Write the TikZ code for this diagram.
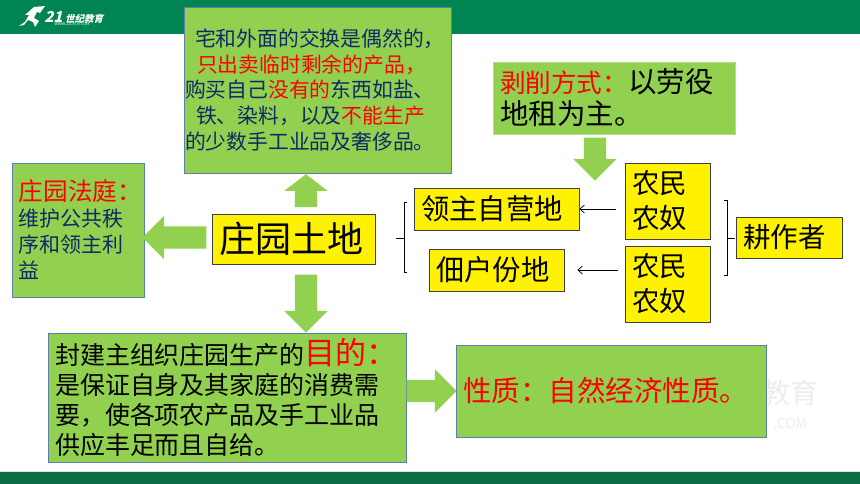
\documentclass[tikz,border=0pt]{standalone}
\usepackage{fontspec}
\usepackage{xcolor}
\setmainfont{Noto Sans CJK SC}
\usetikzlibrary{shapes.arrows,arrows.meta}
\definecolor{boxgreen}{HTML}{92D050}
\definecolor{bandgreen}{HTML}{008451}
\definecolor{footgreen}{HTML}{0A6B45}
\definecolor{edgeblue}{HTML}{5B7FA8}
\definecolor{inknavy}{HTML}{0F2A66}
\tikzset{
  greenbox/.style={fill=boxgreen, draw=edgeblue, line width=0.8pt, inner xsep=7pt, inner ysep=0pt, align=left},
  yellowbox/.style={fill=yellow, draw=black!75, line width=0.8pt, inner xsep=7pt, inner ysep=0pt, align=left},
  bigarrow/.style={single arrow, fill=boxgreen, inner xsep=0pt, inner ysep=11pt, single arrow head extend=10.5pt, single arrow head indent=0pt},
  bracketline/.style={draw=black, line width=1pt},
  thinarrow/.style={-{Straight Barb[length=4.5pt,width=8pt]}, line width=0.7pt}
}
\newcommand{\redtxt}[1]{\textcolor{red}{#1}}
\begin{document}
\begin{tikzpicture}[x=1pt,y=-1pt]
\useasboundingbox (0,0) rectangle (860,484);
% bands
\fill[bandgreen] (0,0) rectangle (860,34);
\fill[footgreen] (0,472) rectangle (860,484);
\fill[black!12] (0,471) rectangle (860,472);
% logo
\fill[white] (34,7) -- (45,6) -- (40,13) -- (37,12) -- (34,18) -- (39,21) -- (35,27) -- (33,22) -- (28,20) -- (24,25) -- (19,26) -- (25,22) -- (29,15) -- (25,15) -- cycle;
\node[white, xslant=0.25, transform shape, inner sep=0pt, font=\bfseries] (logoname) at (75,17) {\fontsize{15}{15}\selectfont 21\,\fontsize{9.5}{15}\selectfont 世纪教育};
\node[white, font=\fontsize{4}{4}\selectfont, inner sep=0pt] (logourl) at (72,24.5) {WWW.21CNJY.COM};
% watermark
\node[black!7, font=\fontsize{28}{28}\selectfont, inner sep=0pt] (markname) at (790,393) {教育};
\node[black!7, font=\fontsize{14}{14}\selectfont, inner sep=0pt] (markurl) at (790,423) {.COM};
% boxes
\node[greenbox, inner xsep=1pt, minimum width=267pt, minimum height=166pt, text width=265pt, text=inknavy, font=\fontsize{20.8}{25.8}\selectfont] (trade) at (317.5,90) {\hspace*{10pt}宅和外面的交换是偶然的，\\\hspace*{12pt}\redtxt{只出卖临时剩余的产品，}\\购买自己\redtxt{没有的}东西如盐、\\\hspace*{11pt}铁、染料，以及\redtxt{不能生产}\\的少数手工业品及奢侈品。};
\node[greenbox, minimum width=132pt, minimum height=134pt, text width=118pt, text=inknavy, font=\fontsize{21}{26}\selectfont] (court) at (78,230) {\redtxt{\fontsize{24.6}{26}\selectfont 庄园法庭：}\\维护公共秩\\序和领主利\\益};
\node[yellowbox, minimum width=163pt, minimum height=50pt, text width=149pt, font=\fontsize{36}{36}\selectfont] (manor) at (293.5,239) {庄园土地};
\node[greenbox, draw=boxgreen!70!white, minimum width=242pt, minimum height=72pt, text width=228pt, font=\fontsize{28.5}{32}\selectfont] (rent) at (614,98) {\redtxt{\fontsize{25.6}{32}\selectfont 剥削方式：}以劳役\\地租为主。};
\node[yellowbox, minimum width=165pt, minimum height=42pt, text width=151pt, font=\fontsize{28.4}{30}\selectfont] (demesne) at (496.5,209) {领主自营地};
\node[yellowbox, minimum width=135pt, minimum height=42pt, text width=121pt, font=\fontsize{28.4}{30}\selectfont] (tenure) at (496.5,270) {佃户份地};
\node[yellowbox, minimum width=85pt, minimum height=76pt, text width=71pt, font=\fontsize{27.5}{35}\selectfont] (serfA) at (667.5,201) {农民\\农奴};
\node[yellowbox, minimum width=85pt, minimum height=76pt, text width=71pt, font=\fontsize{27.5}{35}\selectfont] (serfB) at (667.5,284) {农民\\农奴};
\node[yellowbox, minimum width=106pt, minimum height=41pt, text width=92pt, font=\fontsize{27.5}{30}\selectfont] (tiller) at (789,237.5) {耕作者};
\node[greenbox, minimum width=358pt, minimum height=129pt, text width=344pt, font=\fontsize{25}{30}\selectfont] (purpose) at (227,397.5) {封建主组织庄园生产的\redtxt{\fontsize{31}{30}\selectfont 目的：}\\是保证自身及其家庭的消费需\\要，使各项农产品及手工业品\\供应丰足而且自给。};
\node[greenbox, minimum width=310pt, minimum height=92pt, text width=296pt, text=red, font=\fontsize{28.5}{30}\selectfont] (nature) at (611,391) {性质：自然经济性质。};
% block arrows
\node[bigarrow, rotate=90, minimum height=33pt, single arrow tip angle=105] (arrowup) at (306,195) {};
\node[bigarrow, rotate=180, minimum height=64pt] (arrowleft) at (180,237.5) {};
\node[bigarrow, rotate=-90, minimum height=58pt] (arrowdown) at (306,298) {};
\node[bigarrow, rotate=-90, minimum height=43pt] (arrowrent) at (595,153.5) {};
\node[bigarrow, rotate=0, minimum height=50pt] (arrowright) at (426,391) {};
% thin arrows
\draw[thinarrow, shorten <=9pt] (serfA.west |- demesne.east) -- (demesne.east);
\draw[thinarrow, shorten <=7pt, shorten >=13pt] (serfB.west |- tenure.east) -- (tenure.east);
% brackets
\coordinate (leftbrace) at (404,238);
\coordinate (rightbrace) at (727,238);
\draw[bracketline] (407,203) -- (404,203) -- (404,272) -- (407,272);
\draw[bracketline] (396,238) -- (leftbrace);
\draw[bracketline] (724,201) -- (727,201) -- (727,275) -- (724,275);
\draw[bracketline] (rightbrace) -- (735,238);
\end{tikzpicture}
\end{document}
